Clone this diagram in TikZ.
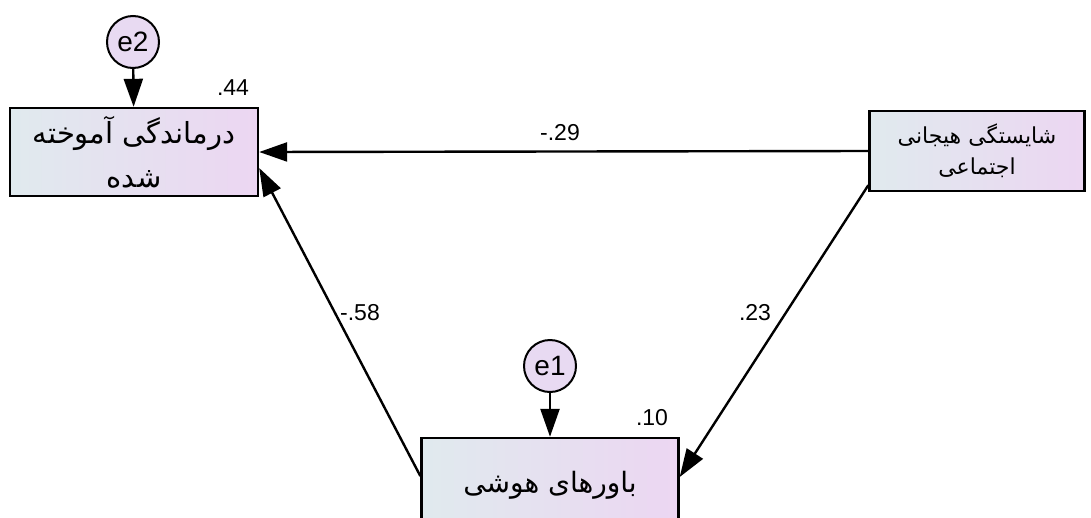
\documentclass[tikz,border=0pt]{standalone}
\usepackage{fontspec}
\setmainfont{Liberation Sans}
\newfontfamily\farsifont[Script=Arabic]{DejaVu Sans}
\TeXXeTstate=1
\usetikzlibrary{positioning,arrows.meta}

\begin{document}
\begin{tikzpicture}[
      x=1pt, y=-1pt,
      font=\fontsize{23}{26}\selectfont,
      varbox/.style={rectangle, draw, line width=2.4pt, left color=semboxl, right color=semboxr,
        align=center, inner sep=2pt},
      errc/.style={circle, draw, line width=2pt, fill=semerr, minimum size=52pt, inner sep=0pt,
        font=\fontsize{28}{30}\selectfont},
      flow/.style={-{Triangle[length=28pt, width=19pt]}, line width=2.4pt},
      coef/.style={inner sep=1pt},
    ]
    \definecolor{semboxl}{RGB}{224,234,238}
    \definecolor{semboxr}{RGB}{236,214,242}
    \definecolor{semerr}{RGB}{232,218,242}

    \useasboundingbox[fill=white] (0,0) rectangle (1091,517);

    \node[varbox, minimum width=248pt, minimum height=88pt,
      font=\fontsize{29}{44}\selectfont\farsifont] (learned) at (134,152)
      {\beginR درماندگی آموخته\endR\\\beginR شده\endR};
    \node[varbox, minimum width=215pt, minimum height=80pt,
      font=\fontsize{22}{31}\selectfont\farsifont] (emotion) at (977,151)
      {\beginR شایستگی هیجانی\endR\\\beginR اجتماعی\endR};
    \node[varbox, minimum width=257pt, minimum height=94pt,
      font=\fontsize{28}{34}\selectfont\farsifont] (beliefs) at (550,485)
      {\beginR باورهای هوشی\endR};

    \node[errc] (e2) at (133,42) {e2};
    \node[errc] (e1) at (550,366) {e1};

    \node[coef] (r44) at (233,88) {.44};
    \node[coef] (r10) at (652,418) {.10};

    \draw[flow] (e2) -- (learned);
    \draw[flow] (e1) -- (beliefs);
    \draw[flow] (emotion.west) -- (learned.east);
    \draw[flow] ([yshift=9pt]beliefs.west) -- ([yshift=-16pt]learned.east);
    \draw[flow] ([yshift=7pt]emotion.south west) -- ([yshift=8pt]beliefs.east);

    \node[coef] (p29) at (560,133) {-.29};
    \node[coef] (p58) at (360,313) {-.58};
    \node[coef] (p23) at (755,313) {.23};
  \end{tikzpicture}
\end{document}
